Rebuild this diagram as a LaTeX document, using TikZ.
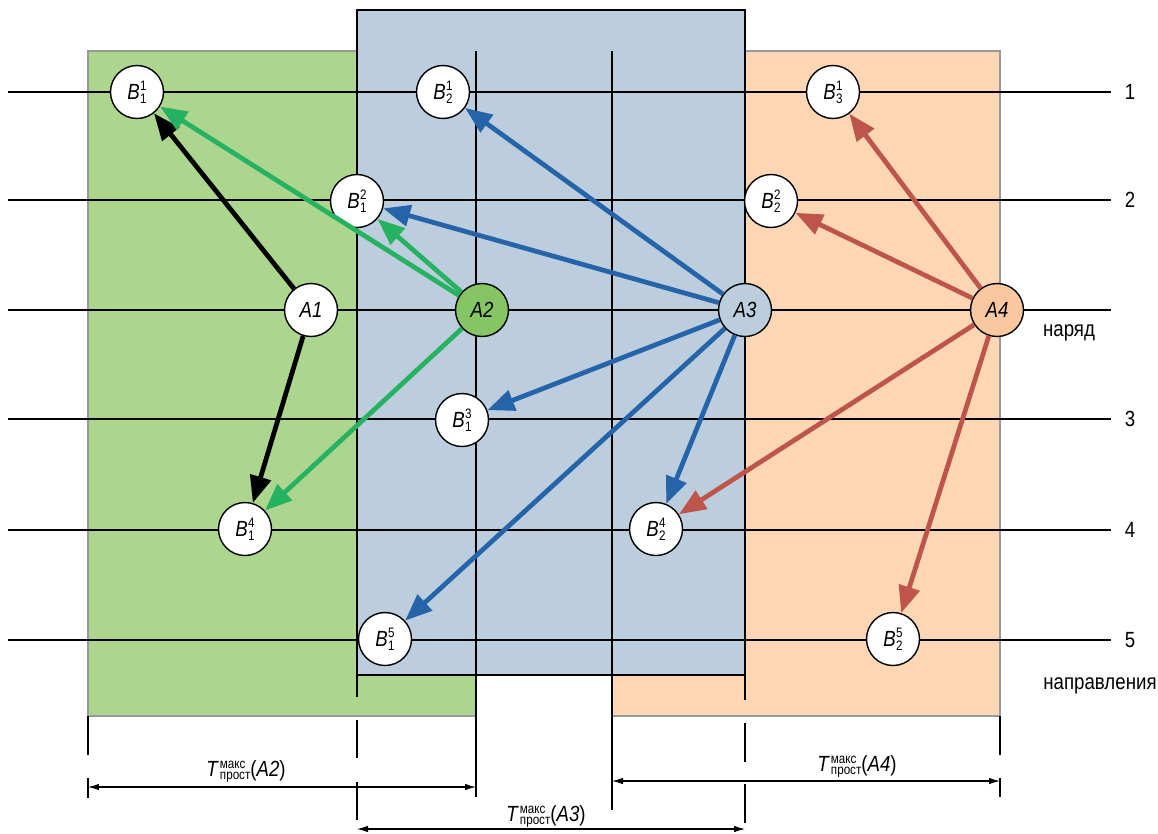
\documentclass[tikz,border=0pt]{standalone}
\usepackage{fontspec}
\setmainfont{Liberation Sans}[FakeStretch=0.85]
\usepackage{tikz}
\usetikzlibrary{arrows.meta}
\usepackage{xcolor}
\definecolor{trgreen}{RGB}{172,213,142}
\definecolor{trblue}{RGB}{188,206,221}
\definecolor{trorange}{RGB}{253,214,180}
\definecolor{trgreennode}{RGB}{134,197,100}
\definecolor{trorangenode}{RGB}{250,200,160}
\definecolor{arrgreen}{RGB}{38,178,96}
\definecolor{arrblue}{RGB}{38,100,170}
\definecolor{arrred}{RGB}{190,85,75}
\tikzstyle{arrow} = [line width=2.7pt, -{Triangle[length=0.54cm,width=0.42cm]}]
\tikzstyle{station} = [circle, draw, line width=0.8pt, fill=white, minimum size=1.06cm, inner sep=0pt]
\tikzstyle{rowline} = [line width=0.75pt]
\tikzstyle{zone} = [draw=gray!80, line width=0.8pt]
\tikzstyle{dimline} = [line width=0.6pt, {Latex[length=2.2mm,width=1.3mm]}-{Latex[length=2.2mm,width=1.3mm]}]
\newcommand{\idx}{\fontsize{7.8}{9}\selectfont}
\newcommand{\Bpt}[2]{\textit{B}\kern0.02em\rlap{\raisebox{5pt}{\idx #1}}\raisebox{-2.3pt}{\idx #2}}
\newcommand{\Tmax}[1]{\textit{T}\kern0.05em\rlap{\raisebox{4.2pt}{\idx макс}}\raisebox{-2pt}{\idx прост}(\textit{#1})}

\begin{document}
\begin{tikzpicture}[x=0.02cm, y=-0.02cm, font=\fontsize{12.5}{14}\selectfont]
\useasboundingbox (0,0) rectangle (1158,833);

% Zones
\draw[zone, fill=trgreen] (88,51) rectangle (476,716);
\draw[zone, fill=trorange] (612,51) rectangle (1000,716);
\draw[line width=0.9pt, fill=trblue] (357,10) rectangle (745,675);

% Time borders
\draw[rowline] (476,51) -- (476,797);
\draw[rowline] (612,51) -- (612,810);
\draw[rowline] (88,716) -- (88,755) (88,778) -- (88,798);
\draw[rowline] (1000,716) -- (1000,755) (1000,778) -- (1000,797);
\draw[rowline] (357,675) -- (357,697) (357,720) -- (357,758) (357,782) -- (357,820);
\draw[rowline] (745,675) -- (745,700) (745,723) -- (745,762) (745,784) -- (745,823);

% Rows
\foreach \y/\t in {92/1, 200/2, 419/3, 530/4, 640/5} {
  \draw[rowline] (8,\y) -- (1111,\y);
  \node (row\t) at (1130,\y) {\t};
}
\draw[rowline] (8,310) -- (1111,310);
\node (naryad) at (1069,333) {наряд};
\node (napravl) at (1100,686) {направления};

% Stations
\node (B11) [station] at (137,92) {\Bpt{1}{1}};
\node (B12) [station] at (443,92) {\Bpt{1}{2}};
\node (B13) [station] at (833,92) {\Bpt{1}{3}};
\node (B21) [station] at (357,201) {\Bpt{2}{1}};
\node (B22) [station] at (771,201) {\Bpt{2}{2}};
\node (B31) [station] at (462,420) {\Bpt{3}{1}};
\node (B41) [station] at (245,529) {\Bpt{4}{1}};
\node (B42) [station] at (656,529) {\Bpt{4}{2}};
\node (B51) [station] at (385,639) {\Bpt{5}{1}};
\node (B52) [station] at (893,639) {\Bpt{5}{2}};

% Orders
\node (A1) [station] at (311,310) {\textit{A1}};
\node (A2) [station, fill=trgreennode] at (482,310) {\textit{A2}};
\node (A3) [station, fill=trblue] at (745,310) {\textit{A3}};
\node (A4) [station, fill=trorangenode] at (997,310) {\textit{A4}};

% Arrows
\draw[arrow, black] (A1) -- (B11);
\draw[arrow, black] (A1) -- (B41);
\draw[arrow, arrgreen] (A2) -- (B11);
\draw[arrow, arrgreen] (A2) -- (B21);
\draw[arrow, arrgreen] (A2) -- (B41);
\draw[arrow, arrblue] (A3) -- (B12);
\draw[arrow, arrblue] (A3) -- (B21);
\draw[arrow, arrblue] (A3) -- (B31);
\draw[arrow, arrblue] (A3) -- (B42);
\draw[arrow, arrblue] (A3) -- (B51);
\draw[arrow, arrred] (A4) -- (B13);
\draw[arrow, arrred] (A4) -- (B22);
\draw[arrow, arrred] (A4) -- (B42);
\draw[arrow, arrred] (A4) -- (B52);

% Idle times
\coordinate (tA2l) at (88,787);
\coordinate (tA2r) at (476,787);
\coordinate (tA3l) at (357,829);
\coordinate (tA3r) at (745,829);
\coordinate (tA4l) at (612,781);
\coordinate (tA4r) at (1000,781);
\draw[dimline] (tA2l) -- (tA2r);
\draw[dimline] (tA3l) -- (tA3r);
\draw[dimline] (tA4l) -- (tA4r);
\node (lA2) [anchor=base] at (246,776) {\Tmax{A2}};
\node (lA3) [anchor=base] at (546,821) {\Tmax{A3}};
\node (lA4) [anchor=base] at (857,771) {\Tmax{A4}};
\end{tikzpicture}
\end{document}
